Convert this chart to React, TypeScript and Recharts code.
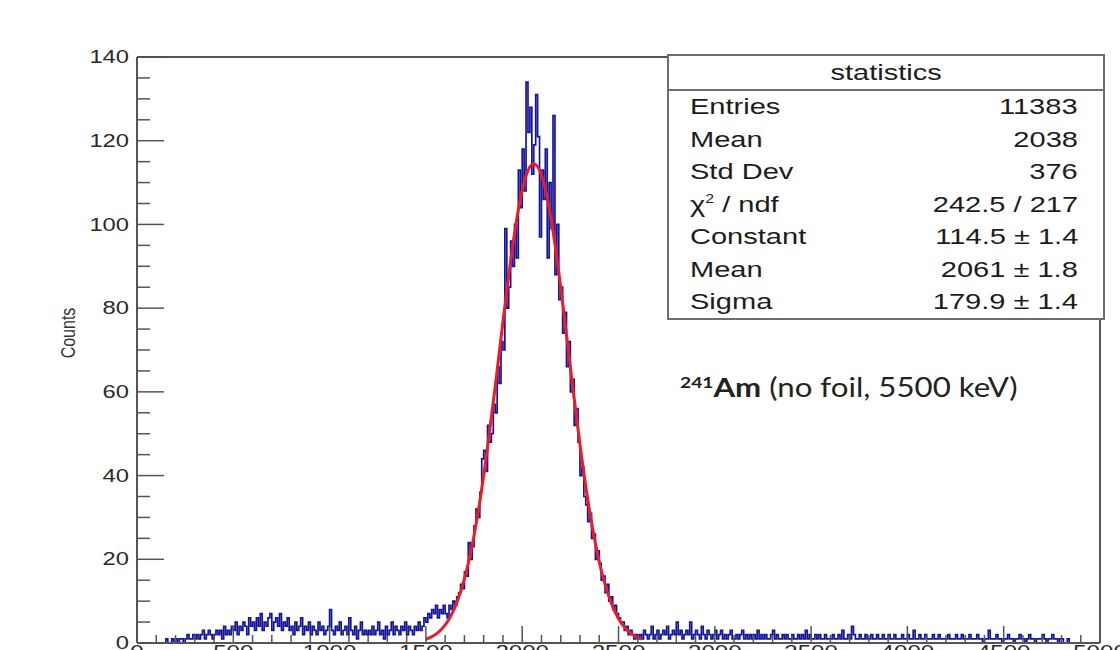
import { ComposedChart, Line, XAxis, YAxis, ReferenceLine } from 'recharts';

// histogram of 241Am spectrum, 10-unit bins from 0 to 5000
const BIN_WIDTH = 10;
const counts = [
  0, 0, 0, 0, 0, 0, 0, 0, 0, 0, 0, 0, 0, 0, 0, 1, 0, 0, 1, 0,
  1, 0, 1, 1, 0, 1, 2, 1, 1, 2, 1, 2, 1, 2, 3, 1, 2, 3, 2, 1,
  2, 3, 2, 3, 1, 4, 2, 3, 2, 4, 3, 5, 2, 4, 3, 5, 4, 2, 6, 4,
  5, 3, 6, 4, 7, 3, 5, 4, 6, 7, 3, 5, 6, 4, 7, 3, 5, 4, 6, 3,
  4, 2, 5, 3, 4, 6, 2, 4, 3, 5, 2, 4, 3, 2, 5, 3, 4, 2, 3, 4,
  8, 3, 2, 4, 3, 5, 2, 3, 4, 2, 6, 3, 2, 4, 1, 3, 5, 2, 3, 2,
  3, 2, 4, 2, 3, 5, 2, 3, 1, 4, 2, 3, 5, 2, 4, 3, 2, 4, 3, 5,
  2, 4, 3, 2, 4, 3, 5, 3, 4, 6, 5, 7, 6, 8, 7, 9, 6, 8, 7, 9,
  7, 6, 9, 8, 10, 9, 11, 12, 14, 13, 17, 16, 24, 20, 23, 28, 32, 30, 36, 44,
  46, 41, 52, 48, 50, 57, 55, 66, 62, 72, 70, 99, 80, 85, 96, 90, 100, 92, 113, 104,
  118, 108, 134, 122, 128, 112, 119, 131, 121, 97, 113, 106, 118, 92, 110, 99, 126, 88, 100, 82,
  85, 74, 79, 66, 72, 60, 63, 52, 56, 48, 40, 42, 35, 33, 29, 31, 25, 26, 20, 22,
  19, 15, 16, 12, 14, 10, 11, 8, 9, 7, 6, 5, 5, 3, 4, 2, 3, 2, 1, 2,
  1, 2, 1, 3, 2, 1, 2, 4, 1, 2, 3, 1, 2, 3, 2, 4, 1, 2, 3, 2,
  5, 2, 3, 1, 2, 3, 2, 5, 1, 2, 3, 2, 1, 4, 2, 1, 3, 2, 1, 2,
  3, 1, 2, 3, 1, 2, 1, 2, 3, 1, 1, 2, 1, 2, 3, 1, 2, 1, 2, 1,
  2, 1, 3, 1, 2, 1, 2, 1, 1, 2, 3, 1, 2, 1, 1, 2, 1, 2, 1, 1,
  2, 1, 1, 2, 1, 2, 1, 3, 1, 2, 1, 1, 2, 1, 2, 1, 1, 2, 1, 1,
  1, 2, 1, 1, 2, 1, 3, 1, 1, 2, 1, 4, 2, 1, 1, 2, 1, 1, 2, 1,
  1, 2, 1, 1, 2, 1, 1, 2, 1, 1, 2, 1, 1, 2, 1, 1, 1, 2, 1, 1,
  2, 1, 1, 3, 1, 1, 2, 1, 1, 2, 1, 1, 1, 2, 1, 1, 2, 1, 1, 1,
  1, 2, 1, 1, 1, 2, 1, 1, 2, 1, 1, 1, 2, 1, 1, 1, 2, 1, 1, 0,
  1, 1, 3, 1, 1, 1, 2, 1, 1, 0, 1, 1, 2, 1, 1, 0, 1, 1, 2, 1,
  1, 0, 1, 2, 1, 1, 0, 1, 1, 1, 2, 1, 0, 1, 1, 2, 1, 1, 0, 1,
  1, 0, 0, 1, 0, 0, 0, 0, 0, 0, 0, 0, 0, 0, 0, 0, 0, 0, 0, 0,
];

// gaussian fit curve
const fitX = [1500, 1540, 1580, 1620, 1660, 1700, 1740, 1780, 1820, 1860, 1900, 1940, 1980, 2020, 2060,
  2100, 2140, 2180, 2220, 2260, 2300, 2340, 2380, 2420, 2460, 2500, 2540, 2580, 2620];
const fitY = [0.89, 1.73, 3.21, 5.67, 9.55, 15.3, 23.3, 33.8, 46.7, 61.3, 76.7, 91.3, 103.5, 111.6, 114.5,
  111.8, 104.0, 92.0, 77.5, 62.1, 47.4, 34.4, 23.8, 15.6, 9.8, 5.8, 3.3, 1.8, 0.9];

const xTicks = [0, 100, 200, 300, 400, 500, 600, 700, 800, 900, 1000, 1100, 1200, 1300, 1400, 1500,
  1600, 1700, 1800, 1900, 2000, 2100, 2200, 2300, 2400, 2500, 2600, 2700, 2800, 2900, 3000, 3100,
  3200, 3300, 3400, 3500, 3600, 3700, 3800, 3900, 4000, 4100, 4200, 4300, 4400, 4500, 4600, 4700,
  4800, 4900, 5000];
const yTicks = [0, 5, 10, 15, 20, 25, 30, 35, 40, 45, 50, 55, 60, 65, 70, 75, 80, 85, 90, 95, 100,
  105, 110, 115, 120, 125, 130, 135, 140];

const statLabels = ['Entries', 'Mean', 'Std Dev', 'chi2', 'Constant', 'Mean', 'Sigma'];
const statValues = ['11383', '2038', '376', '242.5 / 217', '114.5 ± 1.4', '2061 ± 1.8', '179.9 ± 1.4'];

const histData = counts
  .map((c, i) => ({ x: i * BIN_WIDTH, y: c }))
  .concat([{ x: 5000, y: counts[counts.length - 1] }]);
const fitData = fitX.map((x, i) => ({ x, y: fitY[i] }));

const AXIS = '#555';
const FONT = '"Liberation Sans", Arial, sans-serif';

const XTick = (props: any) => {
  const { x, y, payload } = props;
  const major = payload.value % 500 === 0;
  return (
    <g>
      <line x1={x} x2={x} y1={y} y2={y - (major ? 17 : 8)} stroke={AXIS} strokeWidth={1.5} />
      {major && (
        <text transform={`translate(${x},${y + 1}) scale(1.27,1)`} textAnchor="middle"
          dominantBaseline="hanging" fontSize={19} fontFamily={FONT} fill="#2a2a2a">
          {payload.value}
        </text>
      )}
    </g>
  );
};

const YTick = (props: any) => {
  const { x, y, payload } = props;
  const major = payload.value % 20 === 0;
  return (
    <g>
      <line x1={x} x2={x + (major ? 27 : 13)} y1={y} y2={y} stroke={AXIS} strokeWidth={1.5} />
      {major && (
        <text transform={`translate(${x - 8},${y}) scale(1.25,1)`} textAnchor="end"
          dominantBaseline="central" fontSize={19} fontFamily={FONT} fill="#2a2a2a">
          {payload.value}
        </text>
      )}
    </g>
  );
};

const stretch = (origin: string) => ({
  display: 'inline-block',
  transform: 'scaleX(1.32)',
  transformOrigin: origin,
});

const App = () => {
  return (
    <div style={{ position: 'fixed', left: 0, top: 0, width: 1120, height: 650, overflow: 'hidden', background: '#fff' }}>
      <ComposedChart width={1120} height={700} margin={{ top: 57, right: 20, left: 77, bottom: 27 }}>
        <XAxis type="number" dataKey="x" domain={[0, 5000]} ticks={xTicks} interval={0}
          tickSize={0} tickMargin={0} tick={(p: any) => <XTick {...p} />} height={30}
          axisLine={{ stroke: AXIS, strokeWidth: 2 }} allowDataOverflow />
        <YAxis type="number" domain={[0, 140]} ticks={yTicks} interval={0} width={60}
          tickSize={0} tickMargin={0} tick={(p: any) => <YTick {...p} />}
          axisLine={{ stroke: AXIS, strokeWidth: 2 }} allowDataOverflow
          label={{
            content: ({ viewBox }: any) => (
              <text transform={`translate(${viewBox.x - 9},${viewBox.y + viewBox.height / 2 - 17}) rotate(-90) scale(1,1.3)`}
                textAnchor="middle" dominantBaseline="central" fontSize={16} fontFamily={FONT} fill="#333">
                Counts
              </text>
            ),
          }} />
        <ReferenceLine y={140} stroke={AXIS} strokeWidth={2} />
        <ReferenceLine x={5000} stroke={AXIS} strokeWidth={2} />
        <Line data={histData} dataKey="y" type="stepAfter" stroke="#14149c" strokeWidth={1.7}
          dot={false} isAnimationActive={false} />
        <Line data={fitData} dataKey="y" type="monotone" stroke="#ec1c24" strokeWidth={3}
          dot={false} isAnimationActive={false} />
      </ComposedChart>

      <div style={{
        position: 'absolute', left: 667, top: 54, width: 438, height: 266, boxSizing: 'border-box',
        border: '2px solid #6e6e6e', background: '#fff', fontFamily: FONT, fontSize: 22, color: '#1c1c1c',
      }}>
        <div style={{ height: 33, lineHeight: '33px', textAlign: 'center', borderBottom: '2px solid #6e6e6e' }}>
          <span style={stretch('center')}>statistics</span>
        </div>
        {statLabels.map((label, i) => (
          <div key={i} style={{ height: 32.5, lineHeight: '32.5px', display: 'flex', justifyContent: 'space-between', padding: '0 25px 0 21px' }}>
            <span style={stretch('left')}>
              {label === 'chi2' ? (
                <>χ<span style={{ fontSize: 12, position: 'relative', top: -9, lineHeight: 0 }}>2</span> / ndf</>
              ) : label}
            </span>
            <span style={stretch('right')}>{statValues[i]}</span>
          </div>
        ))}
      </div>

      <div style={{
        position: 'absolute', left: 680, top: 371, fontFamily: 'Lato, sans-serif', fontSize: 26, color: '#222',
        whiteSpace: 'nowrap', transform: 'scaleX(1.2)', transformOrigin: 'left',
      }}>
        <span style={{ fontSize: 16, fontWeight: 700, position: 'relative', top: -9 }}>241</span>
        <b>Am</b> (no foil, 5500 keV)
      </div>
    </div>
  );
};

export default App;
